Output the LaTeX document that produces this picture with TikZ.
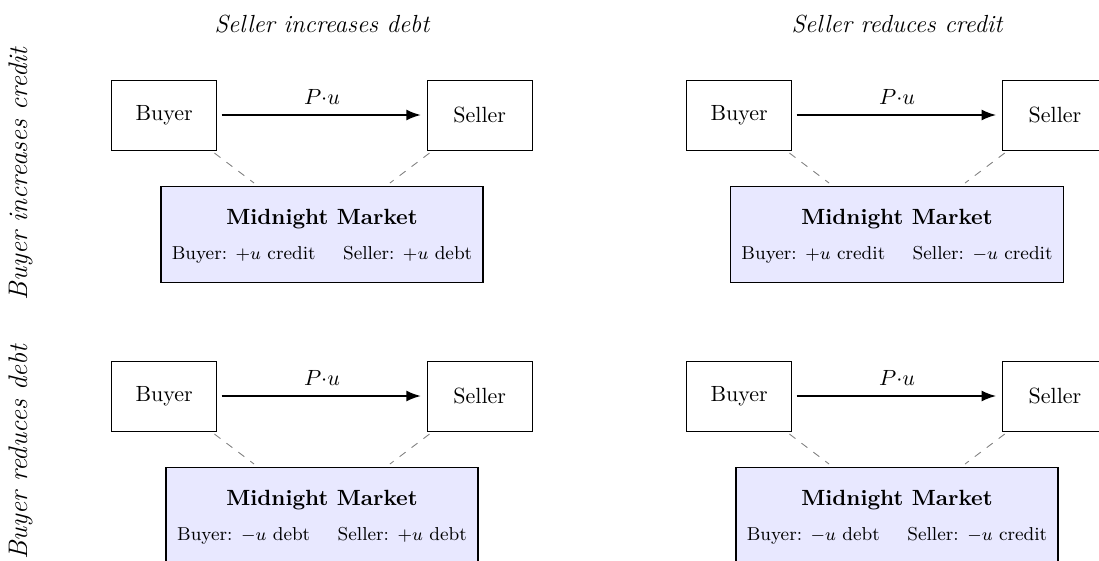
\documentclass[tikz,border=0pt]{standalone}
\usetikzlibrary{arrows.meta}
\definecolor{mk}{RGB}{232,232,255}
\newcommand{\mksmall}{\fontsize{8.5}{10}\selectfont}
\newcommand{\mkstrut}{\rule{0pt}{8.9pt}}
\begin{document}
\begin{tikzpicture}[x=0.4545pt,y=-0.4545pt,
  party/.style={draw, thin, minimum width=47.7pt, minimum height=31.8pt, inner sep=0pt},
  market/.style={draw=black, thick, fill=mk, minimum height=43.6pt, inner xsep=5pt, align=center},
  flow/.style={-{Latex[length=6.6pt,width=5pt]}, thick, shorten <=2pt, shorten >=2.7pt},
  link/.style={gray, thin, dash pattern=on 3.4pt off 3.4pt, shorten <=2pt, shorten >=2pt},
  coltitle/.style={font=\fontsize{11.25}{13}\selectfont\itshape},
  rowtitle/.style={font=\fontsize{12.2}{14}\selectfont\itshape, rotate=90, inner sep=0pt}]
\useasboundingbox (0,0) rectangle (1099,560);

\node[coltitle] (t1) at (322,24) {Seller increases debt};
\node[coltitle] (t2) at (897,24) {Seller reduces credit};
\node[rowtitle] (r1) at (21,174) {Buyer increases credit};
\node[rowtitle] (r2) at (21,452) {Buyer reduces debt};

% top left
\node[party] (b1) at (164.2,115) {Buyer};
\node[party] (s1) at (479.7,115) {Seller};
\node[market] (m1) at (322,234.5) {\mkstrut\textbf{Midnight Market}\\[4pt]{\mksmall Buyer: $+u$ credit\hspace{12.5pt}Seller: $+u$ debt}};
\draw[flow] (b1) -- node[above, yshift=1pt] {$P{\cdot}u$} (s1);
\draw[link] (b1) -- (m1);
\draw[link] (s1) -- (m1);

% top right
\node[party] (b2) at (739.2,115) {Buyer};
\node[party] (s2) at (1055,115) {Seller};
\node[market] (m2) at (897,234.5) {\mkstrut\textbf{Midnight Market}\\[4pt]{\mksmall Buyer: $+u$ credit\hspace{12.5pt}Seller: $-u$ credit}};
\draw[flow] (b2) -- node[above, yshift=1pt] {$P{\cdot}u$} (s2);
\draw[link] (b2) -- (m2);
\draw[link] (s2) -- (m2);

% bottom left
\node[party] (b3) at (164.2,396) {Buyer};
\node[party] (s3) at (479.7,396) {Seller};
\node[market] (m3) at (322,515.5) {\mkstrut\textbf{Midnight Market}\\[4pt]{\mksmall Buyer: $-u$ debt\hspace{12.5pt}Seller: $+u$ debt}};
\draw[flow] (b3) -- node[above, yshift=1pt] {$P{\cdot}u$} (s3);
\draw[link] (b3) -- (m3);
\draw[link] (s3) -- (m3);

% bottom right
\node[party] (b4) at (739.2,396) {Buyer};
\node[party] (s4) at (1055,396) {Seller};
\node[market] (m4) at (897,515.5) {\mkstrut\textbf{Midnight Market}\\[4pt]{\mksmall Buyer: $-u$ debt\hspace{12.5pt}Seller: $-u$ credit}};
\draw[flow] (b4) -- node[above, yshift=1pt] {$P{\cdot}u$} (s4);
\draw[link] (b4) -- (m4);
\draw[link] (s4) -- (m4);
\end{tikzpicture}
\end{document}
